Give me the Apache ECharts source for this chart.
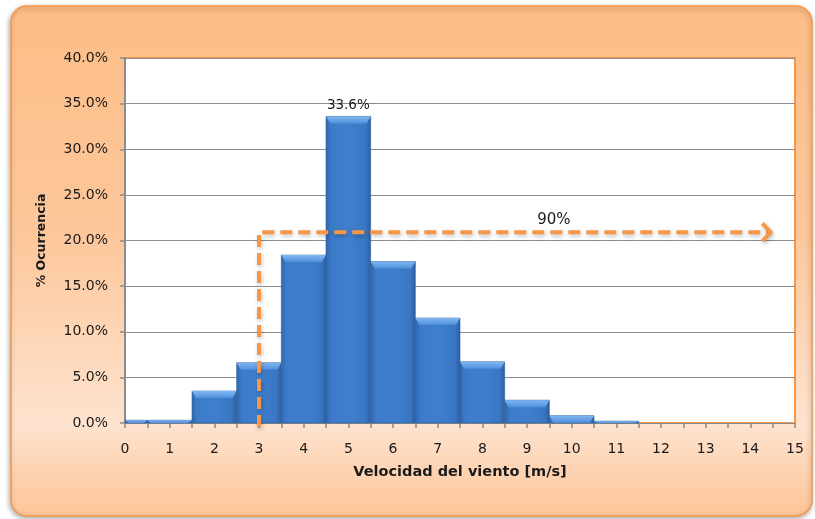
<!DOCTYPE html>
<html>
<head>
<meta charset="utf-8">
<script src="https://cdn.jsdelivr.net/npm/echarts@6/dist/echarts.min.js"></script>
<style>
  html, body { margin: 0; padding: 0; background: #ffffff; }
  #chart { width: 815px; height: 519px; }
</style>
</head>
<body>
<div id="chart"></div>
<script>
// Wind speed histogram: bin centre [m/s] and share of occurrences [%]
var binCenters = [0, 1, 2, 3, 4, 5, 6, 7, 8, 9, 10, 11];
var binStarts  = [0, 0.5, 1.5, 2.5, 3.5, 4.5, 5.5, 6.5, 7.5, 8.5, 9.5, 10.5];
var binEnds    = [0.5, 1.5, 2.5, 3.5, 4.5, 5.5, 6.5, 7.5, 8.5, 9.5, 10.5, 11.5];
var occurrence = [0.3, 0.3, 3.5, 6.6, 18.4, 33.6, 17.7, 11.5, 6.7, 2.5, 0.8, 0.2];
var barLabels  = ['', '', '', '', '', '33.6%', '', '', '', '', '', ''];

// Axis ticks
var xTicks = [0, 1, 2, 3, 4, 5, 6, 7, 8, 9, 10, 11, 12, 13, 14, 15];
var yTicks = [0, 5, 10, 15, 20, 25, 30, 35, 40];

// 90 % exceedance marker: from 3 m/s up to its level, then across
var exceedFrom  = 3;
var exceedLevel = 20.9;
var exceedTo    = 14.45;
var exceedText  = '90%';
var exceedTextAt = [9.6, 22.2];

var FONT = 'DejaVu Sans';
var ORANGE = '#F79646';

var barData = binCenters.map(function (c, i) {
  return [binStarts[i], binEnds[i], occurrence[i]];
});

var chart = echarts.init(document.getElementById('chart'), null, { renderer: 'canvas' });

function renderBar(params, api) {
  var x0 = api.value(0), x1 = api.value(1), v = api.value(2);
  var label = barLabels[params.dataIndex];
  var pTop = api.coord([x0, v]);
  var pBot = api.coord([x1, 0]);
  var x = pTop[0], y = pTop[1];
  var w = pBot[0] - pTop[0], h = pBot[1] - pTop[1];
  var bevel = Math.min(7, h);
  var side = Math.min(4, w / 4);
  var children = [
    {
      type: 'rect',
      shape: { x: x, y: y, width: w, height: h },
      style: {
        fill: new echarts.graphic.LinearGradient(0, 0, 1, 0, [
          { offset: 0, color: '#2F66AB' },
          { offset: 0.12, color: '#3C7BC9' },
          { offset: 0.5, color: '#3E7FCD' },
          { offset: 0.88, color: '#3A77C3' },
          { offset: 1, color: '#2C5E9F' }
        ]),
        stroke: '#2F5E99',
        lineWidth: 0.6
      }
    },
    {
      type: 'polygon',
      shape: { points: [[x, y], [x + w, y], [x + w - side, y + bevel], [x + side, y + bevel]] },
      style: {
        fill: new echarts.graphic.LinearGradient(0, 0, 0, 1, [
          { offset: 0, color: '#80B7F0' },
          { offset: 1, color: '#4F8FDC' }
        ])
      }
    }
  ];
  if (label) {
    children.push({
      type: 'text',
      style: {
        text: label, x: x + w / 2, y: y - 4,
        align: 'center', verticalAlign: 'bottom',
        font: '13.5px "' + FONT + '"', fill: '#1a1a1a'
      },
      z2: 10
    });
  }
  return { type: 'group', children: children };
}

function renderArrow(params, api) {
  var a = api.coord([exceedFrom, 0]);
  var b = api.coord([exceedFrom, exceedLevel]);
  var c = api.coord([exceedTo, exceedLevel]);
  var t = api.coord(exceedTextAt);
  var shadow = {
    shadowBlur: 4, shadowColor: 'rgba(0,0,0,0.25)', shadowOffsetX: 1, shadowOffsetY: 2
  };
  return {
    type: 'group',
    children: [
      {
        type: 'polyline',
        shape: { points: [[a[0], a[1] + 4], b, c] },
        style: Object.assign({ stroke: ORANGE, lineWidth: 4, lineDash: [12, 6], fill: null }, shadow)
      },
      {
        type: 'polyline',
        shape: { points: [[c[0] - 8, c[1] - 9], [c[0], c[1]], [c[0] - 8, c[1] + 9]] },
        style: Object.assign({ stroke: ORANGE, lineWidth: 4, fill: null }, shadow)
      },
      {
        type: 'text',
        style: {
          text: exceedText, x: t[0], y: t[1],
          align: 'center', verticalAlign: 'middle',
          font: '15px "' + FONT + '"', fill: '#1a1a1a'
        }
      }
    ]
  };
}

var option = {
  animation: false,
  backgroundColor: '#ffffff',
  graphic: {
    elements: [{
      type: 'rect',
      z: -100,
      shape: { x: 11, y: 6, width: 801, height: 510, r: 16 },
      style: {
        fill: new echarts.graphic.LinearGradient(0, 0, 0, 1, [
          { offset: 0, color: '#FDBD86' },
          { offset: 0.45, color: '#FDC79B' },
          { offset: 0.82, color: '#FEE3CF' },
          { offset: 1, color: '#FDC496' }
        ]),
        stroke: ORANGE,
        lineWidth: 1.5,
        shadowBlur: 5,
        shadowColor: 'rgba(0,0,0,0.3)',
        shadowOffsetX: -1,
        shadowOffsetY: 2
      }
    }]
  },
  grid: {
    left: 125, right: 20, top: 58, bottom: 96,
    show: true,
    backgroundColor: '#ffffff',
    borderColor: ORANGE,
    borderWidth: 2
  },
  xAxis: {
    type: 'value',
    min: xTicks[0],
    max: xTicks[xTicks.length - 1],
    interval: 0.5,
    name: 'Velocidad del viento [m/s]',
    nameLocation: 'middle',
    nameGap: 42,
    nameTextStyle: { fontFamily: FONT, fontSize: 14.5, fontWeight: 'bold', color: '#1a1a1a' },
    axisLine: { show: false },
    axisTick: { show: true, length: 5, lineStyle: { color: '#868686', width: 1.5 } },
    splitLine: { show: false },
    axisLabel: {
      margin: 19,
      fontFamily: FONT, fontSize: 14, color: '#1a1a1a',
      formatter: function (v) { return xTicks.indexOf(v) >= 0 ? String(v) : ''; }
    }
  },
  yAxis: {
    type: 'value',
    min: yTicks[0],
    max: yTicks[yTicks.length - 1],
    interval: 5,
    name: '% Ocurrencia',
    nameLocation: 'middle',
    nameRotate: 90,
    nameGap: 77,
    nameTextStyle: { fontFamily: FONT, fontSize: 12.5, fontWeight: 'bold', color: '#1a1a1a' },
    axisLine: { show: true, lineStyle: { color: '#8C8C8C', width: 2 } },
    axisTick: { show: true, length: 5, lineStyle: { color: '#8C8C8C', width: 1.5 } },
    splitLine: { show: true, lineStyle: { color: '#8C8C8C', width: 1 } },
    axisLabel: {
      margin: 17,
      fontFamily: FONT, fontSize: 14, color: '#1a1a1a',
      formatter: function (v) { return v.toFixed(1) + '%'; }
    }
  },
  series: [
    {
      type: 'custom',
      name: 'Ocurrencia',
      renderItem: renderBar,
      encode: { x: [0, 1], y: 2 },
      data: barData,
      z: 2
    },
    {
      type: 'custom',
      name: 'P90',
      renderItem: renderArrow,
      encode: { x: 0, y: 1 },
      data: [[exceedFrom, exceedLevel]],
      clip: false,
      z: 5
    }
  ]
};

chart.setOption(option);
</script>
</body>
</html>
